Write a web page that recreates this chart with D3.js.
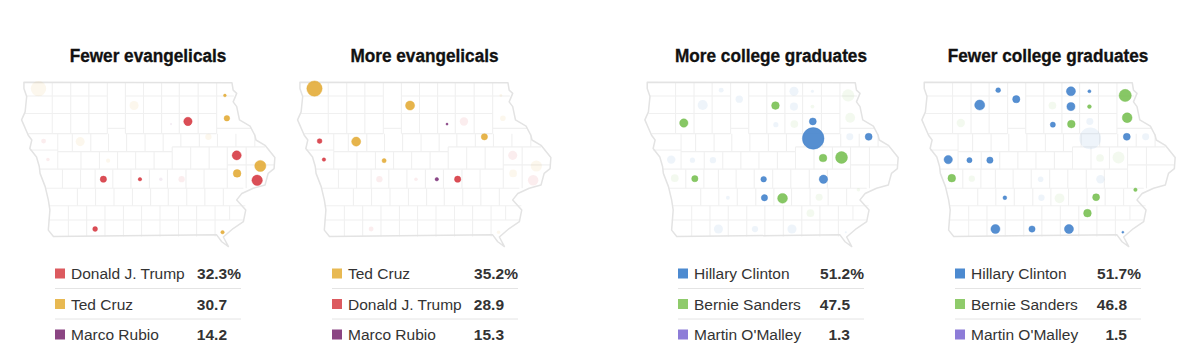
<!DOCTYPE html>
<html>
<head>
<meta charset="utf-8">
<script src="https://cdn.jsdelivr.net/npm/d3@7"></script>
<style>
  html, body { margin: 0; padding: 0; background: #fff; }
  svg { display: block; }
</style>
</head>
<body>
<script>
// panel text
let titles = ["Fewer evangelicals", "More evangelicals", "More college graduates", "Fewer college graduates"];
let panelGroups = ["fewer", "more", "more", "fewer"];
let panelData = ["ev", "ev", "col", "col"];
let legendNames = [
  ["Donald J. Trump", "Ted Cruz", "Marco Rubio"],
  ["Ted Cruz", "Donald J. Trump", "Marco Rubio"],
  ["Hillary Clinton", "Bernie Sanders", "Martin O'Malley"],
  ["Hillary Clinton", "Bernie Sanders", "Martin O'Malley"]
];
let legendValues = [
  ["32.3%", "30.7", "14.2"],
  ["35.2%", "28.9", "15.3"],
  ["51.2%", "47.5", "1.3"],
  ["51.7%", "46.8", "1.5"]
];

// counties in the evangelical maps
let evLon = [-96.21, -93.78, -92.84, -92.41, -91.47, -91.42, -91.89, -96.08, -95.15, -95.97, -94.44, -91.17, -90.57, -91.16, -90.65, -94.56, -93.63, -93.10, -92.57, -94.77, -91.53];
let evLat = [43.37, 43.05, 42.70, 42.75, 43.24, 42.81, 42.46, 42.38, 42.37, 42.03, 42.01, 42.11, 41.91, 41.77, 41.64, 41.66, 41.66, 41.66, 41.66, 40.72, 40.66];
let evMargin = [488, 170, 9, 145, 16, 65, 82, 49, 170, 25, 36, 170, 258, 122, 227, 82, 25, 25, 82, 49, 25];
let evWinner = ["Cruz", "Cruz", "Rubio", "Trump", "Cruz", "Cruz", "Cruz", "Trump", "Cruz", "Trump", "Cruz", "Trump", "Cruz", "Cruz", "Trump", "Trump", "Trump", "Rubio", "Trump", "Trump", "Cruz"];
let evGroup = ["more", "more", "more", "fewer", "fewer", "fewer", "more", "more", "more", "more", "more", "fewer", "fewer", "fewer", "fewer", "fewer", "fewer", "more", "more", "fewer", "fewer"];

// counties in the college maps
let colLon = [-93.32, -95.65, -92.37, -92.36, -90.95, -92.11, -91.64, -95.37, -93.62, -92.10, -93.60, -93.14, -94.70, -92.85, -92.38, -91.47, -95.17, -94.24, -92.85, -92.38, -91.42, -93.31, -92.84, -91.43, -95.97, -95.43, -94.91, -95.88, -94.53, -92.21, -92.43, -94.77, -93.84, -92.90, -91.53, -91.21];
let colLat = [43.05, 42.72, 42.75, 42.43, 42.46, 42.06, 42.07, 41.67, 41.66, 41.66, 41.31, 41.30, 43.34, 43.32, 43.32, 43.24, 43.06, 43.17, 43.03, 43.03, 42.82, 42.69, 42.70, 42.46, 42.03, 42.02, 42.02, 41.68, 41.31, 41.32, 41.02, 40.72, 40.72, 40.72, 40.66, 41.46];
let colMargin = [122, 145, 101, 968, 101, 122, 291, 82, 65, 145, 82, 198, 49, 170, 20, 310, 210, 110, 135, 30, 198, 55, 122, 101, 145, 55, 82, 122, 30, 101, 122, 170, 82, 170, 9, 25];
let colWinner = ["Sanders", "Sanders", "Clinton", "Clinton", "Clinton", "Sanders", "Sanders", "Sanders", "Clinton", "Clinton", "Clinton", "Sanders", "Clinton", "Clinton", "Clinton", "Sanders", "Clinton", "Clinton", "Clinton", "Sanders", "Sanders", "Clinton", "Sanders", "Clinton", "Clinton", "Clinton", "Clinton", "Sanders", "Clinton", "Sanders", "Sanders", "Clinton", "Clinton", "Clinton", "Clinton", "Sanders"];
let colGroup = ["more", "more", "more", "more", "more", "more", "more", "more", "more", "more", "more", "more", "fewer", "fewer", "fewer", "fewer", "fewer", "fewer", "fewer", "fewer", "fewer", "fewer", "fewer", "fewer", "fewer", "fewer", "fewer", "fewer", "fewer", "fewer", "fewer", "fewer", "fewer", "fewer", "fewer", "fewer"];

// Iowa state line, lon/lat
let iowaLon = [-96.58, -91.29, -91.26, -91.17, -91.26, -91.17, -91.10, -90.83, -90.71, -90.68, -90.45, -90.20, -90.22, -90.37, -90.45, -90.75, -91.04, -91.17, -90.94, -91.00, -91.26, -91.51, -91.38, -91.55, -91.68, -95.83, -95.96, -95.92, -95.96, -96.04, -96.17, -96.19, -96.26, -96.43, -96.38, -96.47, -96.64, -96.55, -96.51, -96.58];
let iowaLat = [43.49, 43.48, 43.34, 43.28, 43.12, 43.03, 42.78, 42.66, 42.49, 42.40, 42.30, 42.07, 41.86, 41.77, 41.55, 41.49, 41.39, 41.27, 41.08, 40.86, 40.73, 40.57, 40.39, 40.48, 40.61, 40.58, 40.70, 41.08, 41.27, 41.52, 41.77, 41.90, 42.08, 42.24, 42.40, 42.49, 42.78, 42.93, 43.22, 43.37];

// county lines: east-west runs are [lat, lonA, lonB], north-south runs are [latA, latB, lons]
let countyRuns = [
  [43.23, -96.52, -94.46], [43.23, -94.00, -91.24], [42.90, -96.55, -91.68],
  [42.62, -94.46, -94.00], [42.62, -91.68, -90.80], [42.52, -96.47, -94.46], [42.52, -94.00, -91.68],
  [42.21, -96.43, -95.72], [42.18, -95.72, -92.81], [42.27, -92.81, -90.45],
  [41.85, -96.18, -91.41], [41.93, -91.41, -90.22], [41.49, -96.04, -91.00],
  [41.16, -95.93, -90.95], [40.89, -95.96, -91.00]
];
let countyColumns = [
  [43.49, 42.52, [-95.86, -95.39, -94.93, -94.46, -94.00, -93.54, -93.08, -92.63, -92.15, -91.68]],
  [42.52, 42.18, [-95.72, -95.35, -94.88, -94.43, -93.97, -93.50, -93.04]],
  [42.52, 42.27, [-92.59, -92.12, -91.66, -91.19, -90.71]],
  [42.27, 42.18, [-92.81]],
  [42.18, 41.85, [-95.72, -95.13, -94.66, -94.20, -93.74, -93.27, -92.81]],
  [42.27, 41.85, [-92.34, -91.87]],
  [42.27, 41.49, [-91.41, -90.93]],
  [41.85, 41.49, [-95.60, -95.14, -94.77, -94.32, -93.86, -93.39, -92.93, -92.46, -92.00]],
  [41.49, 41.16, [-95.22, -94.76, -94.29, -93.82, -93.36, -92.91, -92.44, -91.98, -91.51]],
  [41.16, 40.58, [-95.45, -94.985, -94.52, -94.05, -93.59, -93.12, -92.65, -92.19, -91.72]],
  [41.16, 40.89, [-91.35]]
];

let candidateColor = {
  Trump: "#d5363f", Cruz: "#e2aa33", Rubio: "#7b2f78",
  Clinton: "#3f80cb", Sanders: "#76bf50"
};
let swatchColor = {
  "Donald J. Trump": "#dc5a5f", "Ted Cruz": "#e8b952", "Marco Rubio": "#8b4583",
  "Hillary Clinton": "#4c8ad0", "Bernie Sanders": "#8fcb6b", "Martin O'Malley": "#8d7cd8"
};

let width = 1200;
let height = 363;

let panelShift = [0, 276, 623.3, 900.3];
let titleCenter = [148, 424.5, 771, 1048];
let legendLeft = [55, 332, 678, 955];

let svg = d3.select("body").append("svg").attr("width", width).attr("height", height);

// 39.33 px a degree east-west, 53 px north-south
let xScale = d3.scaleLinear().domain([-96.68, -90]).range([20, 20 + 6.68 * 39.33]);
let yScale = d3.scaleLinear().domain([43.5, 40.4]).range([81.7, 81.7 + 3.1 * 53]);
let rScale = d3.scaleSqrt().domain([0, 1000]).range([0, 11]);

let mapLine = d3.line().x(function(d){ return xScale(d[0]); }).y(function(d){ return yScale(d[1]); });

let iowaPoints = iowaLon.map(function(lon, i){ return [lon, iowaLat[i]]; });

let countySegments = [];
countyRuns.forEach(function(r){
  countySegments.push([[r[1], r[0]], [r[2], r[0]]]);
});
countyColumns.forEach(function(c){
  c[2].forEach(function(lon){
    countySegments.push([[lon, c[0]], [lon, c[1]]]);
  });
});

function counties(lons, lats, margins, winners, groups){
  return lons.map(function(lon, i){
    return { lon: lon, lat: lats[i], margin: margins[i], winner: winners[i], group: groups[i] };
  });
}
let dataSets = {
  ev: counties(evLon, evLat, evMargin, evWinner, evGroup),
  col: counties(colLon, colLat, colMargin, colWinner, colGroup)
};

titles.forEach(function(title, p){
  // no condensed face installed, so the bold sans is squeezed sideways
  svg.append("text")
      .attr("transform", "translate(" + titleCenter[p] + ",62) scale(0.905,1)")
      .attr("text-anchor", "middle")
      .attr("font-family", "'Liberation Sans', sans-serif")
      .attr("font-weight", "bold")
      .attr("font-size", 19)
      .attr("fill", "#111")
      .attr("stroke", "#111")
      .attr("stroke-width", 0.35)
      .text(title);

  let map = svg.append("g").attr("transform", "translate(" + panelShift[p] + ",0)");

  map.selectAll(".county")
      .data(countySegments)
      .join("path")
      .attr("class", "county")
      .attr("d", mapLine)
      .attr("fill", "none")
      .attr("stroke", "#f0f0f0")
      .attr("stroke-width", 1.1);

  map.append("path")
      .attr("d", mapLine(iowaPoints) + "Z")
      .attr("fill", "none")
      .attr("stroke", "#e3e3e3")
      .attr("stroke-width", 1.5)
      .attr("stroke-linejoin", "round");

  let group = panelGroups[p];
  map.selectAll(".bubble")
      .data(dataSets[panelData[p]])
      .join("circle")
      .attr("class", "bubble")
      .attr("cx", function(d){ return xScale(d.lon); })
      .attr("cy", function(d){ return yScale(d.lat); })
      .attr("r", function(d){ return rScale(d.margin); })
      .attr("fill", function(d){ return candidateColor[d.winner]; })
      .attr("fill-opacity", function(d){ return d.group == group ? 0.88 : 0.09; })
      .attr("stroke", function(d){ return candidateColor[d.winner]; })
      .attr("stroke-opacity", function(d){ return d.group == group ? 0.6 : 0; })
      .attr("stroke-width", 0.7);

  let left = legendLeft[p];
  let rows = svg.append("g").selectAll("g")
      .data(legendNames[p])
      .join("g")
      .attr("transform", function(d, i){ return "translate(" + left + "," + (273.5 + i * 30.5) + ")"; });

  rows.append("rect")
      .attr("x", 0)
      .attr("y", -5)
      .attr("width", 10)
      .attr("height", 10)
      .attr("fill", function(d){ return swatchColor[d]; });

  rows.append("text")
      .attr("x", 16)
      .attr("y", 5.5)
      .attr("font-family", "'Liberation Sans', sans-serif")
      .attr("font-size", 15.5)
      .attr("fill", "#333")
      .text(function(d){ return d; });

  // digits line up on the right, the % hangs past them
  rows.append("text")
      .attr("x", function(d, i){ return legendValues[p][i].indexOf("%") >= 0 ? 186 : 172; })
      .attr("y", 5.5)
      .attr("text-anchor", "end")
      .attr("font-family", "'Liberation Sans', sans-serif")
      .attr("font-weight", "bold")
      .attr("font-size", 15.5)
      .attr("fill", "#333")
      .text(function(d, i){ return legendValues[p][i]; });

  rows.filter(function(d, i){ return i < 2; })
      .append("line")
      .attr("x1", 0)
      .attr("x2", 186)
      .attr("y1", 15)
      .attr("y2", 15)
      .attr("stroke", "#e4e4e4")
      .attr("stroke-width", 1);
});
</script>
</body>
</html>
